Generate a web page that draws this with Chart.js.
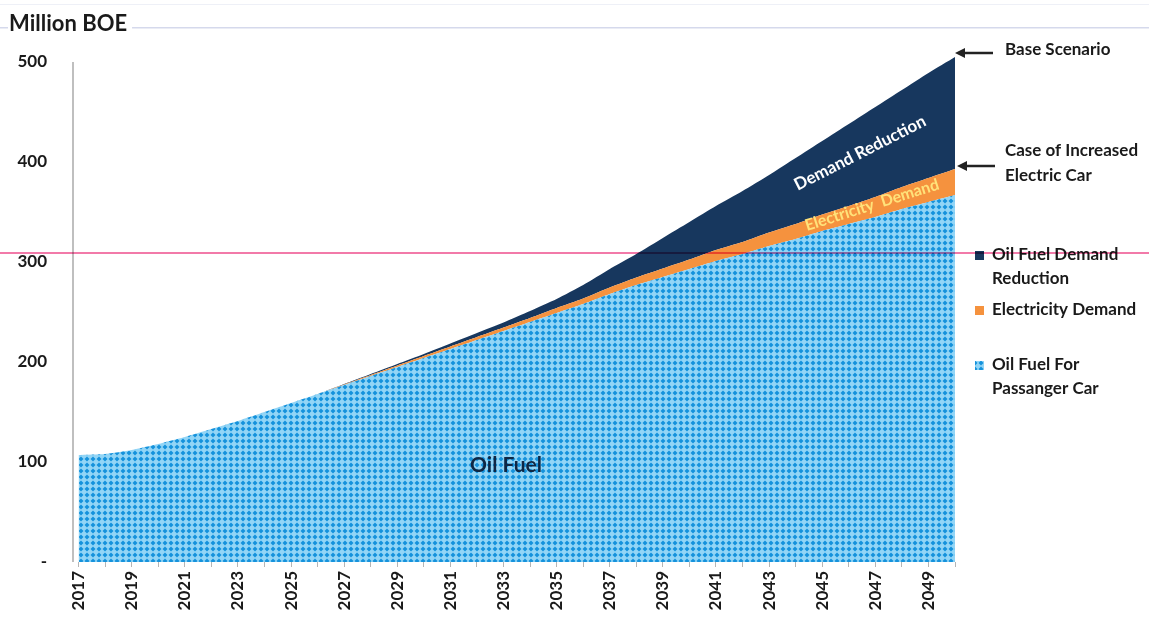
<!DOCTYPE html>
<html>
<head>
<meta charset="utf-8">
<script src="https://cdn.jsdelivr.net/npm/chart.js@4.4.1/dist/chart.umd.min.js"></script>
<style>
  html, body { margin: 0; padding: 0; background: #fff; }
  #wrap { width: 1149px; height: 621px; }
</style>
</head>
<body>
<div id="wrap"><canvas id="oilChart" width="1149" height="621"></canvas></div>
<script>
// values (Million BOE)
const years = [2017, 2018, 2019, 2020, 2021, 2022, 2023, 2024, 2025, 2026, 2027, 2028,
  2029, 2030, 2031, 2032, 2033, 2034, 2035, 2036, 2037, 2038, 2039, 2040, 2041, 2042,
  2043, 2044, 2045, 2046, 2047, 2048, 2049, 2050];
const oilFuel = [107, 108, 112, 118, 125, 133, 141, 150, 159, 168, 177, 186,
  195, 204, 213, 222, 231, 240, 249, 258, 268, 277, 285, 293, 301, 308,
  316, 323, 331, 338, 345, 353, 360, 367];
const electricity = [0, 0, 0, 0, 0, 0, 0, 0, 0, 0, 0.5, 1,
  1.5, 2, 2.5, 3, 3.5, 4, 5, 5.5, 6.5, 7.5, 8.5, 9.5, 11, 12,
  13.5, 15, 16.5, 18, 20, 22, 24, 26];
const demandReduction = [0, 0, 0, 0, 0, 0, 0, 0, 0, 0, 0.5, 1,
  1.5, 2, 3, 4, 5, 7, 9, 13.5, 18.5, 23.5, 30.5, 37.5, 44, 51,
  57.5, 66, 73.5, 82, 90, 97, 105, 112];
const yTicks = [0, 100, 200, 300, 400, 500];

const navy = "#17375e";
const orange = "#f5923e";
const textDark = "#1a1a1a";
const FONT = "Lato, 'Open Sans', sans-serif";

// dotted blue hatch like the original fill
function makePattern() {
  const c = document.createElement("canvas");
  c.width = 6;
  c.height = 6;
  const p = c.getContext("2d");
  p.fillStyle = "#92d5f6";
  p.fillRect(0, 0, 6, 6);
  p.fillStyle = "#1592dc";
  p.beginPath();
  p.moveTo(3, 0.5);
  p.lineTo(5.5, 3);
  p.lineTo(3, 5.5);
  p.lineTo(0.5, 3);
  p.closePath();
  p.fill();
  return c;
}

const ctx = document.getElementById("oilChart").getContext("2d");
const oilPattern = ctx.createPattern(makePattern(), "repeat");

const pts = (arr) => arr.map((v, i) => ({ x: years[i], y: v }));

function arrow(c, x1, x2, y) {
  c.save();
  c.strokeStyle = "#222";
  c.fillStyle = "#222";
  c.lineWidth = 2.5;
  c.beginPath();
  c.moveTo(x2, y);
  c.lineTo(x1 + 8, y);
  c.stroke();
  c.beginPath();
  c.moveTo(x1, y);
  c.lineTo(x1 + 10, y - 5);
  c.lineTo(x1 + 10, y + 5);
  c.closePath();
  c.fill();
  c.restore();
}

const decorations = {
  id: "decorations",
  beforeDraw(chart) {
    const c = chart.ctx;
    c.save();
    c.fillStyle = "#fff";
    c.fillRect(0, 0, chart.width, chart.height);
    c.fillStyle = "#eef0f7";
    c.fillRect(0, 4, chart.width, 1);
    c.fillStyle = "#d5d9ec";
    c.fillRect(0, 27, chart.width, 1.5);
    c.font = "bold 22px " + FONT;
    const w = c.measureText("Million BOE").width;
    c.fillStyle = "#fff";
    c.fillRect(8, 12, w + 6, 26);
    c.fillStyle = textDark;
    c.textBaseline = "middle";
    c.fillText("Million BOE", 9, 24);

    // y axis line from 0 to 500
    const y = chart.scales.y;
    const left = chart.chartArea.left;
    c.fillStyle = "#808080";
    c.fillRect(left - 0.5, y.getPixelForValue(500), 1, y.getPixelForValue(0) - y.getPixelForValue(500));
    c.restore();
  },
  afterDraw(chart) {
    const c = chart.ctx;
    c.save();

    // labels inside the areas
    c.textAlign = "center";
    c.textBaseline = "middle";
    c.font = "bold 21px " + FONT;
    c.fillStyle = "#0f2744";
    c.fillText("Oil Fuel", 506, 465);

    c.save();
    c.translate(860, 153);
    c.rotate(-27 * Math.PI / 180);
    c.font = "bold 17px " + FONT;
    c.fillStyle = "#ffffff";
    c.fillText("Demand Reduction", 0, 0);
    c.restore();

    c.save();
    c.translate(872, 205);
    c.rotate(-17.5 * Math.PI / 180);
    c.font = "bold 16px " + FONT;
    c.fillStyle = "#ffe27a";
    c.fillText("Electricity  Demand", 0, 0);
    c.restore();

    // scenario notes
    c.textAlign = "left";
    c.font = "bold 17px " + FONT;
    c.fillStyle = textDark;
    c.fillText("Base Scenario", 1005, 50);
    c.fillText("Case of Increased", 1005, 151);
    c.fillText("Electric Car", 1005, 176);
    arrow(c, 955, 993, 53);
    arrow(c, 957, 995, 166);

    // legend
    c.fillStyle = navy;
    c.fillRect(975, 251, 9, 9);
    c.fillStyle = orange;
    c.fillRect(975, 306, 9, 9);
    c.fillStyle = oilPattern;
    c.fillRect(975, 361, 9, 9);
    c.fillStyle = textDark;
    c.fillText("Oil Fuel Demand", 992, 255);
    c.fillText("Reduction", 992, 279);
    c.fillText("Electricity Demand", 992, 310);
    c.fillText("Oil Fuel For", 992, 365);
    c.fillText("Passanger Car", 992, 389);

    // pink scan line across the page
    c.globalCompositeOperation = "multiply";
    c.fillStyle = "#f27aa9";
    c.fillRect(0, 252, chart.width, 2);
    c.restore();
  },
};

new Chart(ctx, {
  type: "line",
  data: {
    datasets: [
      {
        label: "Oil Fuel For Passanger Car",
        data: pts(oilFuel),
        backgroundColor: oilPattern,
        borderWidth: 0,
        fill: "origin",
        pointRadius: 0,
        tension: 0.2,
      },
      {
        label: "Electricity Demand",
        data: pts(electricity),
        backgroundColor: orange,
        borderWidth: 0,
        fill: "-1",
        pointRadius: 0,
        tension: 0.2,
      },
      {
        label: "Oil Fuel Demand Reduction",
        data: pts(demandReduction),
        backgroundColor: navy,
        borderWidth: 0,
        fill: "-1",
        pointRadius: 0,
        tension: 0.2,
      },
    ],
  },
  options: {
    responsive: false,
    animation: false,
    layout: { padding: { top: 56, right: 194, left: 0, bottom: 0 } },
    plugins: {
      legend: { display: false },
      tooltip: { enabled: false },
    },
    scales: {
      x: {
        type: "linear",
        min: 2016.79,
        max: 2050,
        afterBuildTicks: (s) => {
          s.ticks = years.map((v) => ({ value: v }));
        },
        afterFit: (s) => {
          s.height = 59;
        },
        grid: { drawOnChartArea: false, drawTicks: true, tickLength: 5, color: "#b5b5b5" },
        border: { display: false },
        ticks: {
          autoSkip: false,
          minRotation: 90,
          maxRotation: 90,
          padding: 4,
          color: textDark,
          font: { family: FONT, size: 17, weight: "bold" },
          callback: (v) => (v % 2 === 1 ? String(v) : ""),
        },
      },
      y: {
        stacked: true,
        min: 0,
        max: 506,
        afterBuildTicks: (s) => {
          s.ticks = yTicks.map((v) => ({ value: v }));
        },
        afterFit: (s) => {
          s.width = 73;
        },
        grid: { display: false, drawTicks: false },
        border: { display: false },
        ticks: {
          padding: 26,
          color: textDark,
          font: { family: FONT, size: 17, weight: "bold" },
          callback: (v) => (v === 0 ? "-" : String(v)),
        },
      },
    },
  },
  plugins: [decorations],
});
</script>
</body>
</html>
